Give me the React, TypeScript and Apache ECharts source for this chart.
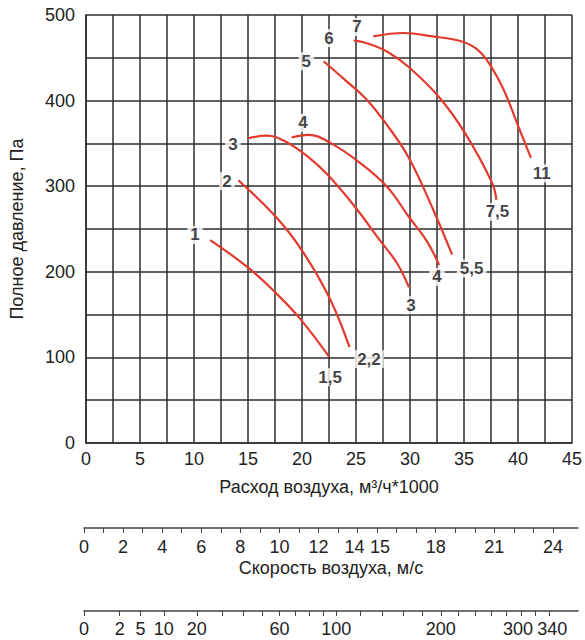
import React, { useEffect, useRef } from "react";
import * as echarts from "echarts";

// Fan curves: [flow (m3/h*1000), total pressure (Pa)]
const curve1 = [[11.5, 237], [15.1, 204], [17.6, 175], [19.7, 147], [22.5, 101]];
const curve2 = [[14.1, 307], [17.6, 264], [20.1, 223], [22.56, 169], [24.4, 112]];
const curve3 = [[15.0, 356], [16.7, 359], [18.5, 352], [20.6, 334], [22.4, 313], [24.9, 276], [27.2, 237], [28.8, 210], [29.9, 182]];
const curve4 = [[19.05, 357], [20.6, 360], [22.7, 350], [25.4, 327], [27.9, 299], [29.9, 264], [31.5, 237], [32.7, 208]];
const curve5 = [[22.0, 446], [24.0, 424], [26.0, 401], [27.9, 371], [29.9, 333], [32.1, 274], [33.9, 220]];
const curve6 = [[24.8, 470], [26.0, 467], [27.9, 457], [29.9, 439], [32.7, 404], [35.1, 362], [37.6, 304], [38.0, 284]];
const curve7 = [[26.6, 475], [29.4, 479], [32.1, 475], [34.8, 469], [36.3, 459], [37.5, 440], [38.7, 412], [39.9, 374], [41.2, 333]];
const curves = [curve1, curve2, curve3, curve4, curve5, curve6, curve7];

// Curve annotations
const labelTexts = ["1", "2", "3", "4", "5", "6", "7", "1,5", "2,2", "3", "4", "5,5", "7,5", "11"];
const labelPoints = [
  [10.1, 243], [13.05, 306], [13.6, 349], [20.1, 374], [20.4, 446], [22.5, 473], [25.1, 486],
  [22.6, 77], [26.2, 98], [30.1, 161], [32.5, 194], [35.7, 204], [38.1, 270], [42.2, 315],
];

// Secondary scales
const speedTicks = [0, 1, 2, 3, 4, 5, 6, 7, 8, 9, 10, 11, 12, 13, 14, 15, 16, 17, 18, 19, 20, 21, 22, 23, 24];
const speedLabels = [0, 2, 4, 6, 8, 10, 12, 14, 15, 18, 21, 24];
const dynTicks = [0, 2, 5, 10, 20, 30, 40, 50, 60, 70, 80, 90, 100, 120, 140, 160, 180, 200, 220, 240, 260, 280, 300, 320, 340];
const dynLabels = [0, 2, 5, 10, 20, 60, 100, 200, 300, 340];
const AIR_HALF_DENSITY = 0.6; // p = rho*v^2/2

const RED = "#e23b2e";
const GRID = "#2e2e2e";
const TXT = "#222";
const FONT = "'Liberation Sans', Arial, sans-serif";
const FS = 18;

export default function App() {
  const ref = useRef<HTMLDivElement>(null);
  useEffect(() => {
    document.body.style.margin = "0";
    const chart = echarts.init(ref.current!, undefined, { renderer: "svg" });
    const toSpeed = (p: number) => Math.sqrt(p / AIR_HALF_DENSITY);
    const speedMax = 25.28;
    const rich = {
      l: { padding: [0, 6, 0, 0], fontSize: FS, color: TXT, fontFamily: FONT },
      r: { padding: [0, 0, 0, 6], fontSize: FS, color: TXT, fontFamily: FONT },
    };
    chart.setOption({
      animation: false,
      textStyle: { fontFamily: FONT },
      grid: [
        { left: 83, top: 15, width: 496, height: 428 },
        { left: 84, top: 527, width: 494, height: 1 },
        { left: 84, top: 610, width: 494, height: 1 },
      ],
      xAxis: [
        {
          gridIndex: 0, type: "value", min: 0, max: 45, interval: 2.5,
          axisLine: { show: true, lineStyle: { color: GRID, width: 1.5 } },
          axisTick: { show: false },
          splitLine: { show: true, lineStyle: { color: GRID, width: 1.5 } },
          axisLabel: { formatter: (v: number) => (v % 5 === 0 ? String(v) : ""), margin: 7, fontSize: FS, color: TXT, fontFamily: FONT },
          name: "Расход воздуха, м³/ч*1000", nameLocation: "middle", nameGap: 35,
          nameTextStyle: { fontSize: FS, color: TXT, fontFamily: FONT },
        },
        {
          gridIndex: 1, type: "value", min: 0, max: speedMax,
          axisLine: { show: true, lineStyle: { color: "#444", width: 1.5 } },
          axisTick: { show: true, customValues: speedTicks, length: 5, lineStyle: { color: "#444", width: 1 } },
          axisLabel: {
            customValues: speedLabels, margin: 10, fontSize: FS, color: TXT, fontFamily: FONT, rich,
            formatter: (v: number) => (v === 14 ? "{l|14}" : v === 15 ? "{r|15}" : String(v)),
          },
          splitLine: { show: false },
          name: "Скорость воздуха, м/с", nameLocation: "middle", nameGap: 31,
          nameTextStyle: { fontSize: FS, color: TXT, fontFamily: FONT },
        },
        {
          gridIndex: 2, type: "value", min: 0, max: speedMax,
          axisLine: { show: true, lineStyle: { color: "#444", width: 1.5 } },
          axisTick: { show: true, customValues: dynTicks.map(toSpeed), length: 5, lineStyle: { color: "#444", width: 1 } },
          axisLabel: {
            customValues: dynLabels.map(toSpeed), margin: 9, fontSize: FS, color: TXT, fontFamily: FONT, rich,
            formatter: (v: number) => {
              const p = Math.round(AIR_HALF_DENSITY * v * v);
              return p === 300 ? "{l|300}" : p === 340 ? "{r|340}" : String(p);
            },
          },
          splitLine: { show: false },
        },
      ],
      yAxis: [
        {
          gridIndex: 0, type: "value", min: 0, max: 500, interval: 50,
          axisLine: { show: true, lineStyle: { color: GRID, width: 1.5 } },
          axisTick: { show: false },
          splitLine: { show: true, lineStyle: { color: GRID, width: 1.5 } },
          axisLabel: { formatter: (v: number) => (v % 100 === 0 ? String(v) : ""), margin: 11, fontSize: FS, color: TXT, fontFamily: FONT },
          name: "Полное давление, Па", nameLocation: "middle", nameGap: 60,
          nameTextStyle: { fontSize: FS, color: TXT, fontFamily: FONT },
        },
        { gridIndex: 1, type: "value", show: false, min: 0, max: 1 },
        { gridIndex: 2, type: "value", show: false, min: 0, max: 1 },
      ],
      series: [
        ...curves.map((c) => ({
          type: "line", xAxisIndex: 0, yAxisIndex: 0, data: c, smooth: 0.4,
          showSymbol: false, symbol: "none", lineStyle: { color: RED, width: 2.2 }, z: 3,
        })),
        {
          type: "scatter", xAxisIndex: 0, yAxisIndex: 0, symbolSize: 1, z: 5,
          itemStyle: { color: "rgba(0,0,0,0)" },
          data: labelTexts.map((t, i) => ({ name: t, value: labelPoints[i] })),
          label: {
            show: true, position: "inside", formatter: (p: any) => p.name,
            fontSize: 17, fontWeight: "bold", color: "#111", fontFamily: FONT,
            backgroundColor: "#fff", padding: [1, 3, 0, 3],
          },
        },
      ],
    });
    return () => chart.dispose();
  }, []);
  return <div ref={ref} style={{ width: 585, height: 640 }} />;
}
